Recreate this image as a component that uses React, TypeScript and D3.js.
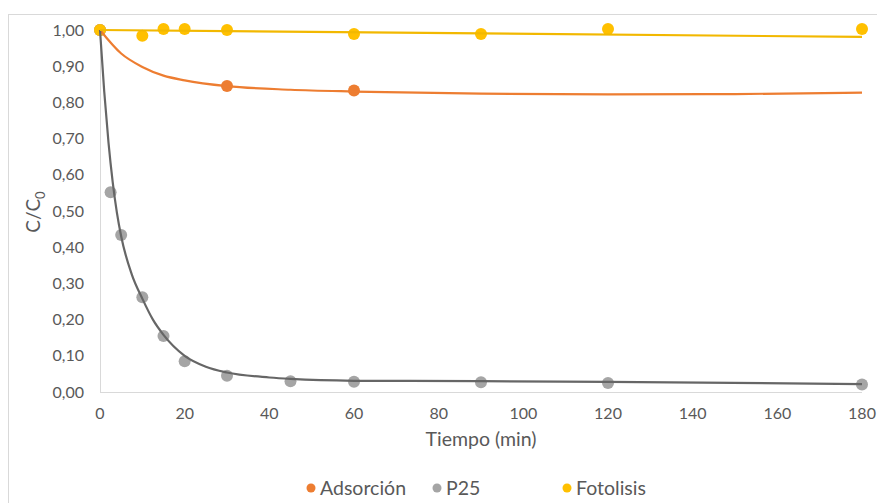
import React from 'react';
import { scaleLinear, line, curveMonotoneX, range } from 'd3';

// measured points
const adsT = [0, 30, 60];
const adsV = [1.0, 0.845, 0.833];
const p25T = [0, 2.5, 5, 10, 15, 20, 30, 45, 60, 90, 120, 180];
const p25V = [1.0, 0.552, 0.434, 0.262, 0.155, 0.085, 0.045, 0.03, 0.028, 0.027, 0.025, 0.021];
const fotT = [0, 10, 15, 20, 30, 60, 90, 120, 180];
const fotV = [1.0, 0.984, 1.003, 1.003, 1.0, 0.989, 0.989, 1.003, 1.003];

// fitted curves
const adsFitT = [0, 5, 10, 15, 20, 30, 45, 60, 90, 120, 150, 180];
const adsFitV = [1.0, 0.935, 0.898, 0.874, 0.861, 0.845, 0.835, 0.83, 0.824, 0.822, 0.823, 0.827];
const p25FitT = [0, 1, 2, 3, 4, 5, 7.5, 10, 12.5, 15, 20, 25, 30, 40, 45, 60, 90, 120, 180];
const p25FitV = [1.0, 0.83, 0.69, 0.58, 0.495, 0.43, 0.325, 0.258, 0.2, 0.158, 0.1, 0.07, 0.054, 0.04, 0.036, 0.031, 0.03, 0.028, 0.022];
const fotFitT = [0, 180];
const fotFitV = [1.0, 0.981];

const xTicks = [0, 20, 40, 60, 80, 100, 120, 140, 160, 180];
const yTicks = range(0, 11).map(i => i / 10);

const series = [
  { name: 'Adsorción', color: '#ED7D31', lineColor: '#ED7D31', t: adsT, v: adsV, ft: adsFitT, fv: adsFitV },
  { name: 'P25', color: '#A5A5A5', lineColor: '#666666', t: p25T, v: p25V, ft: p25FitT, fv: p25FitV },
  { name: 'Fotolisis', color: '#FFC000', lineColor: '#F2B800', t: fotT, v: fotV, ft: fotFitT, fv: fotFitV },
];

const FONT = 'Lato, "Open Sans", sans-serif';

export default function App() {
  const x = scaleLinear().domain([0, 180]).range([100, 862]);
  const y = scaleLinear().domain([0, 1]).range([392, 30]);
  const fmt = (d: number) => d.toFixed(2).replace('.', ',');
  const mk = line<[number, number]>().x(d => x(d[0])).y(d => y(d[1])).curve(curveMonotoneX);

  const legendX = [311, 437, 567];

  return (
    <svg width={877} height={503} style={{ position: 'absolute', left: 0, top: 0 }} fontFamily={FONT}>
      <rect x={0} y={0} width={877} height={503} fill="#fff" />
      <rect x={8.5} y={14.5} width={880} height={500} fill="none" stroke="#D9D9D9" />

      {/* axes */}
      <line x1={100.5} x2={100.5} y1={30} y2={392} stroke="#D9D9D9" />
      <line x1={100} x2={862} y1={392.5} y2={392.5} stroke="#D9D9D9" />

      {yTicks.map(t => (
        <text key={t} x={84} y={y(t)} dy="0.35em" textAnchor="end" fontSize={16} fill="#595959">{fmt(t)}</text>
      ))}
      {xTicks.map(t => (
        <text key={t} x={x(t)} y={413} dy="0.35em" textAnchor="middle" fontSize={16} fill="#595959">{t}</text>
      ))}

      <text x={481} y={439} dy="0.35em" textAnchor="middle" fontSize={19.5} fill="#595959">Tiempo (min)</text>
      <text transform="translate(40,212) rotate(-90)" textAnchor="middle" fontSize={19} fill="#595959">
        C/C<tspan fontSize={13} dy={5}>0</tspan>
      </text>

      {/* points */}
      {series.map(s => (
        <g key={s.name}>
          {s.t.map((t, i) => (
            <circle key={i} cx={x(t)} cy={y(s.v[i])} r={6} fill={s.color} />
          ))}
        </g>
      ))}
      {/* fitted lines */}
      {series.map(s => (
        <path key={s.name} d={mk(s.ft.map((t, i) => [t, s.fv[i]] as [number, number])) || ''} fill="none" stroke={s.lineColor} strokeWidth={2.2} />
      ))}

      {/* legend */}
      {series.map((s, i) => (
        <g key={s.name} transform={`translate(${legendX[i]},488)`}>
          <circle cx={0} cy={0} r={4.5} fill={s.color} />
          <text x={9} y={0} dy="0.35em" fontSize={19.5} fill="#595959">{s.name}</text>
        </g>
      ))}
    </svg>
  );
}
